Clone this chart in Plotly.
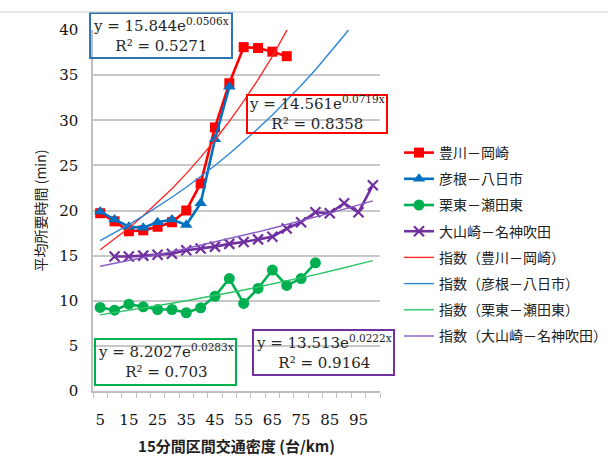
import numpy as np
import plotly.graph_objects as go

# ---- data ----
density = [5, 10, 15, 20, 25, 30, 35, 40, 45, 50, 55, 60, 65, 70, 75, 80, 85, 90, 95, 100]
tick_labels = ["5", "15", "25", "35", "45", "55", "65", "75", "85", "95"]
tick_positions = [5, 15, 25, 35, 45, 55, 65, 75, 85, 95]

toyokawa_x = [5, 10, 15, 20, 25, 30, 35, 40, 45, 50, 55, 60, 65, 70]
toyokawa_y = [19.7, 18.8, 17.7, 17.8, 18.2, 18.7, 20.0, 23.0, 29.2, 34.1, 38.1, 38.0, 37.6, 37.1]

hikone_x = [5, 10, 15, 20, 25, 30, 35, 40, 45, 50]
hikone_y = [19.9, 19.0, 18.2, 18.1, 18.7, 19.0, 18.4, 20.8, 27.9, 33.7]

ritto_x = [5, 10, 15, 20, 25, 30, 35, 40, 45, 50, 55, 60, 65, 70, 75, 80]
ritto_y = [9.26, 8.96, 9.62, 9.33, 9.03, 9.03, 8.67, 9.22, 10.5, 12.46, 9.7, 11.36, 13.4, 11.7, 12.46, 14.2]

oyamazaki_x = [10, 15, 20, 25, 30, 35, 40, 45, 50, 55, 60, 65, 70, 75, 80, 85, 90, 95, 100]
oyamazaki_y = [14.9, 14.9, 15.0, 15.1, 15.2, 15.6, 15.8, 16.0, 16.3, 16.5, 16.8, 17.1, 18.0, 18.7, 19.8, 19.7, 20.8, 19.8, 22.8]

series_names = ["豊川－岡崎", "彦根－八日市", "栗東－瀬田東", "大山崎－名神吹田"]
trend_names = ["指数（豊川－岡崎）", "指数（彦根－八日市）", "指数（栗東－瀬田東）", "指数（大山崎－名神吹田）"]

# exponential trendline coefficients shown on the chart (x = category index 1..20)
trend_a = [14.561, 15.844, 8.2027, 13.513]
trend_b = [0.0719, 0.0506, 0.0283, 0.0222]
trend_r2 = ["0.8358", "0.5271", "0.703", "0.9164"]

# ---- styles ----
series_colors = ["#FF0000", "#0070C0", "#00B050", "#7030A0"]
trend_colors = ["#FF2A2A", "#2E86D8", "#2CC468", "#8A5CC4"]
markers = [dict(symbol="square", size=10),
           dict(symbol="triangle-up", size=11),
           dict(symbol="circle", size=11),
           dict(symbol="x-thin", size=10, line=dict(width=2.2, color="#7030A0"))]

xs_list = [toyokawa_x, hikone_x, ritto_x, oyamazaki_x]
ys_list = [toyokawa_y, hikone_y, ritto_y, oyamazaki_y]

fig = go.Figure()
rank = 1
for name, xs, ys, col, mk in zip(series_names, xs_list, ys_list, series_colors, markers):
    fig.add_trace(go.Scatter(x=xs, y=ys, name=name, mode="lines+markers",
                             line=dict(color=col, width=2.6),
                             marker=dict(color=col, **mk),
                             legendgroup=name, legendrank=rank))
    rank += 1

idx = np.arange(1, len(density) + 1)
for name, a, b, col in zip(trend_names, trend_a, trend_b, trend_colors):
    fig.add_trace(go.Scatter(x=density, y=a * np.exp(b * idx), name=name, mode="lines",
                             line=dict(color=col, width=1.4),
                             legendgroup=name, legendrank=rank))
    rank += 1

# ---- layout helpers (pixel -> paper) ----
FW, FH = 608, 468
L, R, T, B = 93, 380, 30, 391
W, H = R - L, B - T

def px(x):
    return (x - L) / W

def py(y):
    return (B - y) / H

serif = "DejaVu Serif"
boxes = [
    # (x0, y0, x1, y1, color, a, b, r2)
    (90, 13, 232, 58, "#2E75B6", "15.844", "0.0506", "0.5271"),
    (247, 95, 387, 133, "#FF0000", "14.561", "0.0719", "0.8358"),
    (95, 339, 236, 385, "#00B050", "8.2027", "0.0283", "0.703"),
    (253, 330, 394, 375, "#7030A0", "13.513", "0.0222", "0.9164"),
]
for x0, y0, x1, y1, col, a, b, r2 in boxes:
    fig.add_shape(type="rect", xref="paper", yref="paper",
                  x0=px(x0), x1=px(x1), y0=py(y1), y1=py(y0),
                  line=dict(color=col, width=2), fillcolor="rgba(0,0,0,0)", layer="above")
    fig.add_annotation(xref="paper", yref="paper", x=px((x0 + x1) / 2), y=py((y0 + y1) / 2 - 1),
                       text=f"y = {a}e<sup>{b}x</sup><br>R² = {r2}",
                       showarrow=False, align="center", xanchor="center", yanchor="middle",
                       font=dict(family=serif, size=15, color="#262626"))

# top frame line
fig.add_shape(type="line", xref="paper", yref="paper", x0=px(0), x1=px(608),
              y0=py(12), y1=py(12), line=dict(color="#D0D0D0", width=1))

fig.update_layout(
    width=FW, height=FH,
    margin=dict(l=L, r=FW - R, t=T, b=FH - B, autoexpand=False),
    paper_bgcolor="white", plot_bgcolor="white",
    showlegend=True,
    legend=dict(xref="container", yref="container", x=399 / FW, y=1 - 137 / FH,
                xanchor="left", yanchor="top",
                font=dict(family="Noto Sans CJK JP", size=14, color="#222"),
                itemwidth=30, tracegroupgap=5, traceorder="grouped",
                bgcolor="rgba(0,0,0,0)"),
    xaxis=dict(range=[2.5, 102.5], tickmode="array", tickvals=tick_positions, ticktext=tick_labels,
               ticks="", showgrid=False, zeroline=False,
               showline=True, linecolor="#BFBFBF", linewidth=1.5,
               tickfont=dict(family=serif, size=15, color="#111"),
               ticklabelstandoff=14,
               minor=dict(tick0=2.5, dtick=5, ticks="outside", ticklen=5, tickcolor="#BFBFBF",
                          tickwidth=1, showgrid=False),
               title=dict(text="<b>15分間区間交通密度 (台/km)</b>", standoff=14,
                          font=dict(family="Noto Sans CJK JP", size=15, color="#222"))),
    yaxis=dict(range=[0, 40], tickmode="array", tickvals=[0, 5, 10, 15, 20, 25, 30, 35, 40],
               showgrid=True, gridcolor="#C8C8C8", gridwidth=1.5, zeroline=False,
               showline=True, linecolor="#BFBFBF", linewidth=1.5, ticks="",
               tickfont=dict(family=serif, size=15, color="#111"),
               ticklabelstandoff=10,
               title=dict(text="平均所要時間 (min)", standoff=9,
                          font=dict(family="Noto Sans CJK JP", size=14, color="#222"))),
)

fig.write_html("out.html", config={"displayModeBar": False},
               post_script="document.body.style.margin='0';document.body.style.overflow='hidden';")
